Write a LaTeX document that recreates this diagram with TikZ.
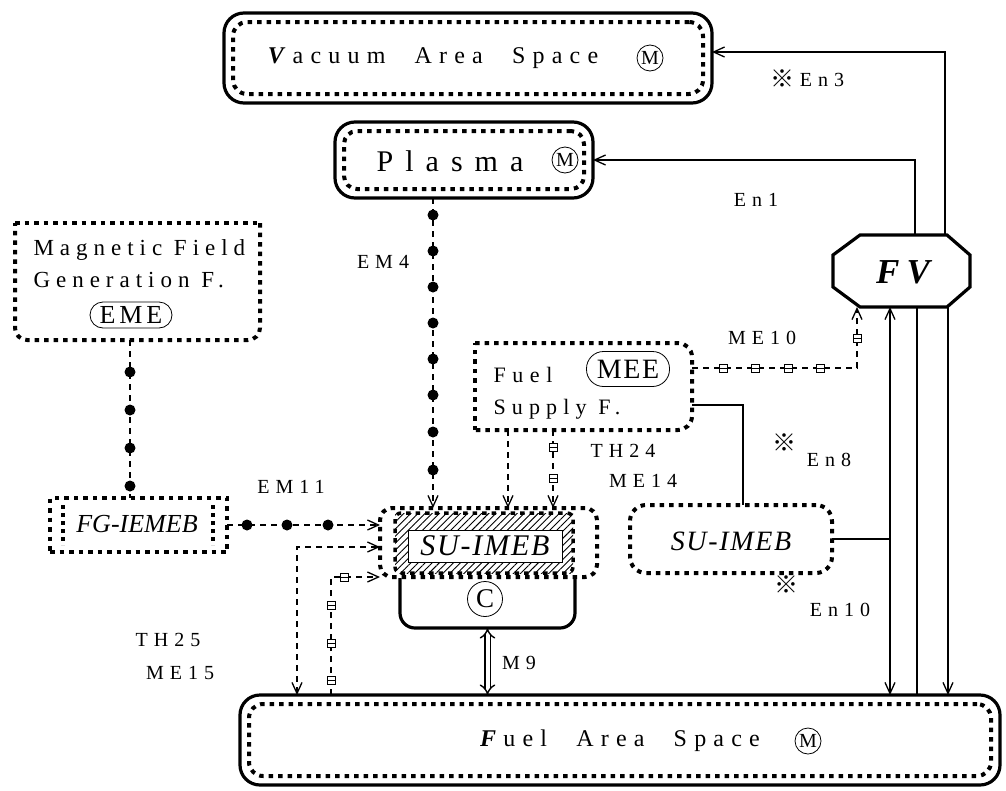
\documentclass[tikz,border=0pt]{standalone}
\usepackage{fontspec}
\setmainfont{Liberation Serif}
\newfontfamily\cjkfont{Noto Sans CJK JP}
\usetikzlibrary{arrows.meta,patterns.meta,calc}
\newcommand{\myls}[1]{\addfontfeature{LetterSpace=#1}}
\newcommand{\fsz}[1]{\fontsize{#1}{#1}\selectfont}
\begin{document}
\begin{tikzpicture}[x=1pt,y=-1pt,
 box/.style={rectangle, inner sep=0pt, outer sep=0pt},
 solidb/.style={draw, line width=3.2pt, rounded corners=20pt},
 dotb/.style={draw, line width=4pt, dash pattern=on 4.5pt off 5pt},
 dashl/.style={line width=1.3pt, dash pattern=on 6pt off 5pt},
 thinl/.style={line width=1.3pt},
 tip/.style={-{Straight Barb[length=11pt,width=10pt]}},
 tips/.style={{Straight Barb[length=11pt,width=10pt]}-{Straight Barb[length=11pt,width=10pt]}},
 bdot/.style={circle, fill, inner sep=0pt, minimum size=11pt},
 sqm/.style={draw, line width=0.9pt, fill=white, minimum size=8pt, inner sep=0pt,
   path picture={\draw[line width=0.7pt] (path picture bounding box.west) -- (path picture bounding box.east);}},
 mcirc/.style={circle, draw, line width=0.8pt, minimum size=26pt, inner sep=0pt, font=\fsz{20}},
 oval/.style={draw, line width=0.8pt, inner sep=0pt},
 lbl/.style={font=\fsz{20}\myls{30}, inner sep=0pt},
 refm/.style={font=\cjkfont\fsz{24}, inner sep=0pt},
 big/.style={font=\fsz{24}\myls{30}},
]
\useasboundingbox (0,0) rectangle (1006,790);

% ---------- Vacuum Area Space
\node[box, solidb, minimum width=488pt, minimum height=90pt] (vac) at (468,58) {};
\node[box, dotb, rounded corners=14pt, minimum width=470pt, minimum height=72pt] (vacin) at (468,58) {};
\node[big] (vact) at (433,58) {\textbf{\textit{V}}acuum\hspace{16pt} Area\hspace{16pt} Space};
\node[mcirc] (vacm) at (650,58) {M};

% ---------- Plasma
\node[box, solidb, minimum width=258pt, minimum height=76pt] (pl) at (464,160) {};
\node[box, dotb, rounded corners=13pt, minimum width=240pt, minimum height=58pt] (plin) at (464,160) {};
\node[font=\fsz{30}\myls{40}] (plt) at (450,161) {Plasma};
\node[mcirc] (plm) at (565,160) {M};

% ---------- Magnetic Field Generation F.
\node[box, minimum width=245pt, minimum height=117pt] (mag) at (137.5,281.5) {};
\draw[dotb] (mag.north west) -- (mag.north east);
\draw[dotb, rounded corners=12pt] (mag.north east) -- (mag.south east) -- (mag.south west) -- (mag.north west);
\node[font=\fsz{23}\myls{26}, anchor=west] (magt1) at (30,250) {Magnetic Field};
\node[font=\fsz{23}\myls{26}, anchor=west] (magt2) at (30,280) {Generation F.};
\node[oval, rounded corners=13pt, minimum width=82pt, minimum height=26pt, font=\fsz{26}\myls{15}] (eme) at (131,315) {EME};

% ---------- FG-IEMEB
\node[box, dotb, line width=3.5pt, minimum width=177pt, minimum height=54pt] (fg) at (138.5,525) {};
\draw[line width=3.5pt, dash pattern=on 4pt off 4pt] ($(fg.north west)+(13,7)$) -- ($(fg.south west)+(13,-7)$);
\draw[line width=3.5pt, dash pattern=on 4pt off 4pt] ($(fg.north east)+(-14,7)$) -- ($(fg.south east)+(-14,-7)$);
\node[font=\itshape\fsz{26}] (fgt) at (137,524) {FG-IEMEB};

% ---------- Fuel Supply F.
\node[box, minimum width=217pt, minimum height=87pt] (fs) at (583.5,386.5) {};
\draw[dotb] (fs.south west) -- (fs.north west);
\draw[dotb, rounded corners=14pt] (fs.north west) -- (fs.north east) -- (fs.south east) -- (fs.south west);
\node[font=\fsz{22}\myls{30}, anchor=west] (fst1) at (490,375) {Fuel};
\node[oval, rounded corners=17pt, minimum width=83pt, minimum height=35pt, font=\fsz{28}\myls{6}] (mee) at (628,369) {MEE};
\node[font=\fsz{22}\myls{28}, anchor=west] (fst2) at (490,409) {Supply F.};

% ---------- FV
\node[box, minimum width=137pt, minimum height=72pt] (fv) at (901.5,271) {};
\draw[line width=3.2pt] ($(fv.north west)+(27,0)$) -- ($(fv.north east)+(-23,0)$) -- ($(fv.north east)+(0,20)$)
  -- ($(fv.south east)+(0,-20)$) -- ($(fv.south east)+(-23,0)$) -- ($(fv.south west)+(27,0)$)
  -- ($(fv.south west)+(0,-20)$) -- ($(fv.north west)+(0,20)$) -- cycle;
\node[font=\bfseries\itshape\fsz{35}\myls{20}] (fvt) at (903,272) {FV};

% ---------- SU-IMEB (centre)
\node[box, dotb, rounded corners=12pt, minimum width=217pt, minimum height=69pt] (su) at (488.5,542.5) {};
\fill[pattern={Lines[angle=45,distance=5pt,line width=0.9pt]}] (395,513) rectangle (573,573);
\draw[dotb, line width=3.5pt, rounded corners=6pt] (395,513) rectangle (573,573);
\node[draw, fill=white, line width=0.6pt, minimum width=154pt, minimum height=32pt, inner sep=0pt,
      font=\itshape\fsz{30}\myls{6}] (sut) at (485,546) {SU-IMEB};
\node[box, minimum width=175pt, minimum height=50pt] (cup) at (487.5,603) {};
\draw[line width=3.2pt, rounded corners=15pt] (cup.north west) -- (cup.south west) -- (cup.south east) -- (cup.north east);
\node[circle, draw, line width=0.8pt, minimum size=35pt, inner sep=0pt, font=\fsz{27}] (cc) at (485,599) {C};

% ---------- SU-IMEB (right)
\node[box, dotb, rounded corners=16pt, minimum width=202pt, minimum height=68pt] (rsu) at (731,539) {};
\node[font=\itshape\fsz{28}\myls{6}] (rsut) at (731,541) {SU-IMEB};

% ---------- Fuel Area Space
\node[box, solidb, minimum width=760pt, minimum height=90pt] (fa) at (620,740) {};
\node[box, dotb, rounded corners=14pt, minimum width=742pt, minimum height=72pt] (fain) at (620,740) {};
\node[big] (fat) at (620,741) {\textbf{\textit{F}}uel\hspace{16pt} Area\hspace{16pt} Space};
\node[mcirc] (fam) at (808,741) {M};

% ---------- attach points
\coordinate (fvT1) at (915,235);
\coordinate (fvT2) at (945,235);
\coordinate (fvB0) at (857,307);
\coordinate (fvB1) at (890,307);
\coordinate (fvB2) at (917,307);
\coordinate (fvB3) at (948,307);
\coordinate (faT1) at (890,695);
\coordinate (faT2) at (917,695);
\coordinate (faT3) at (948,695);
\coordinate (faL1) at (297,695);
\coordinate (faL2) at (331,695);

% ---------- FV connectors
\draw[thinl, tip] (fvT2) |- ([yshift=6pt]vac.east);
\draw[thinl, tip] (fvT1) |- (pl.east);
\draw[thinl, tips] (faT1) -- (fvB1);
\draw[thinl] (faT2) -- (fvB2);
\draw[thinl, tip] (fvB3) -- (faT3);

% ME10
\draw[dashl, tip] ([yshift=18.5pt]fs.east) -| (fvB0);
\foreach \xx [count=\i] in {723,755,788,820} \node[sqm] (q\i) at (\xx,368) {};
\node[sqm] (q5) at (857,338) {};

% Fuel supply to right SU-IMEB
\draw[thinl] ([yshift=-18.5pt]fs.east) -| ($(rsu.north)+(12,0)$);
\draw[thinl] (rsu.east) -- (rsu.east -| fvB1);

% TH24 / ME14
\draw[dashl, tip] ($(fs.south)+(-75.5,0)$) -- ($(su.north)+(19.5,0)$);
\draw[dashl, tip] ($(fs.south)+(-30.5,0)$) -- ($(su.north)+(64.5,0)$);
\node[sqm] (q6) at (553,447) {};
\node[sqm] (q7) at (553,478) {};

% EM4
\draw[dashl, tip] ($(pl.south)+(-31,0)$) -- ($(su.north)+(-55.5,0)$);
\foreach \yy [count=\i] in {215,251,287,323,359,395,432,470} \node[bdot] (e4d\i) at (433,\yy) {};

% EME -> FG-IEMEB
\draw[dashl] ($(mag.south)+(-7.5,0)$) -- ($(fg.north)+(-8.5,0)$);
\foreach \yy [count=\i] in {372,410,448,486} \node[bdot] (emd\i) at (130,\yy) {};

% EM11
\draw[dashl, tip] (fg.east) -- (fg.east -| su.west);
\foreach \xx [count=\i] in {247,287,328} \node[bdot] (e11d\i) at (\xx,525) {};

% TH25 / ME15
\draw[dashl, tips] (faL1) |- ([yshift=-4.5pt]su.west);
\draw[dashl, tip] (faL2) |- (su.south west);
\node[sqm] (q8) at (344,577) {};
\foreach \yy [count=\i] in {605,643,680} \node[sqm] (r\i) at (331,\yy) {};

% M9
\draw[line width=1.4pt, double, double distance=4pt, {Implies[length=9pt]}-{Implies[length=9pt]}] (cup.south) -- (cup.south |- fa.north);

% ---------- labels
\node[refm] (rm3) at (782,79) {※};
\node[lbl] (en3) at (822,80) {En3};
\node[lbl] (en1) at (756,200) {En1};
\node[lbl] (em4) at (383,262) {EM4};
\node[lbl] (me10) at (762,338) {ME10};
\node[lbl] (th24) at (623,451) {TH24};
\node[lbl] (me14) at (643,481) {ME14};
\node[lbl] (em11) at (291,487) {EM11};
\node[refm] (rm8) at (784,443) {※};
\node[lbl] (en8) at (829,460) {En8};
\node[refm] (rm10) at (786,585) {※};
\node[lbl] (en10) at (840,610) {En10};
\node[lbl] (th25) at (168,640) {TH25};
\node[lbl] (me15) at (180,673) {ME15};
\node[lbl] (m9) at (519,663) {M9};
\end{tikzpicture}
\end{document}
